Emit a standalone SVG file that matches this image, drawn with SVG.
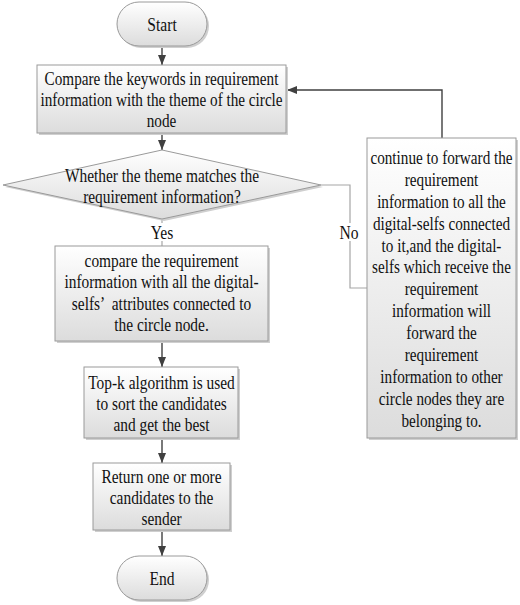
<svg xmlns="http://www.w3.org/2000/svg" width="520" height="605" viewBox="0 0 520 605">
<style>
.t{font-family:"Liberation Serif","Times New Roman",serif;font-size:19.5px;fill:#111;text-anchor:middle}
.box{fill:url(#g);stroke:#9a9a9a;stroke-width:1}
.sh{fill:#cfcfcf;stroke:none}
.arr{fill:none;stroke:#404040;stroke-width:1.4;marker-end:url(#ah)}
.ln{fill:none;stroke:#a6a6a6;stroke-width:1.2}
.lb{fill:#fff;stroke:none}
</style>
<defs>
<linearGradient id="g" x1="0" y1="0" x2="0" y2="1">
<stop offset="0" stop-color="#ffffff"/>
<stop offset="1" stop-color="#dcdcdc"/>
</linearGradient>
<marker id="ah" markerUnits="userSpaceOnUse" markerWidth="10" markerHeight="8" refX="10" refY="4" orient="auto">
<path d="M0,0 L10,4 L0,8 z" fill="#404040"/>
</marker>
</defs>
<rect width="520" height="605" fill="#fff"/>
<g id="connectors">
<path class="arr" d="M162,46 V65"/>
<path class="arr" d="M162,133 V150"/>
<path class="ln" d="M162,219 V246"/>
<path class="arr" d="M162,341 V367"/>
<path class="arr" d="M162,438 V463"/>
<path class="arr" d="M162,530 V556"/>
<path class="ln" d="M321,185 H350 V288 H367"/>
<path class="arr" d="M442,138 V90 H287"/>
<rect class="lb" x="151" y="223" width="23" height="18"/>
<rect class="lb" x="339" y="223" width="20" height="18"/>
<g transform="translate(162,0) scale(0.8,1)"><text class="t" x="0" y="239">Yes</text></g>
<g transform="translate(349,0) scale(0.8,1)"><text class="t" x="0" y="239">No</text></g>
</g>
<g id="start">
<rect class="sh" x="119" y="4" width="90" height="44" rx="22"/>
<rect class="box" x="117" y="2" width="90" height="44" rx="22"/>
<g transform="translate(162,0) scale(0.8,1)"><text class="t" x="0" y="31">Start</text></g>
</g>
<g id="compare-keywords">
<rect class="sh" x="39" y="67" width="249" height="68"/>
<rect class="box" x="37" y="65" width="249" height="68"/>
<g transform="translate(161.5,0) scale(0.78,1)">
<text class="t" x="0" y="85">Compare the keywords in requirement</text>
<text class="t" x="0" y="106">information with the theme of the circle</text>
<text class="t" x="0" y="127">node</text>
</g>
</g>
<g id="decision">
<polygon class="sh" points="164,152 323,187 164,221 5,187"/>
<polygon class="box" points="162,150 321,185 162,219 3,185"/>
<g transform="translate(162,0) scale(0.79,1)">
<text class="t" x="0" y="182">Whether the theme matches the</text>
<text class="t" x="0" y="203">requirement information?</text>
</g>
</g>
<g id="compare-attributes">
<rect class="sh" x="57" y="248" width="213" height="95"/>
<rect class="box" x="55" y="246" width="213" height="95"/>
<g transform="translate(161.5,0) scale(0.79,1)">
<text class="t" x="0" y="267">compare the requirement</text>
<text class="t" x="0" y="288.5">information with all the digital-</text>
<text class="t" x="0" y="310" xml:space="preserve">selfs’  attributes connected to</text>
<text class="t" x="0" y="331.5">the circle node.</text>
</g>
</g>
<g id="topk">
<rect class="sh" x="86" y="369" width="154" height="71"/>
<rect class="box" x="84" y="367" width="154" height="71"/>
<g transform="translate(161.5,0) scale(0.79,1)">
<text class="t" x="0" y="389">Top-k algorithm is used</text>
<text class="t" x="0" y="410">to sort the candidates</text>
<text class="t" x="0" y="431">and get the best</text>
</g>
</g>
<g id="return">
<rect class="sh" x="95" y="465" width="137" height="67"/>
<rect class="box" x="93" y="463" width="137" height="67"/>
<g transform="translate(161.5,0) scale(0.79,1)">
<text class="t" x="0" y="483">Return one or more</text>
<text class="t" x="0" y="504">candidates to the</text>
<text class="t" x="0" y="525.5">sender</text>
</g>
</g>
<g id="end">
<rect class="sh" x="119" y="558" width="90" height="44" rx="22"/>
<rect class="box" x="117" y="556" width="90" height="44" rx="22"/>
<g transform="translate(162,0) scale(0.8,1)"><text class="t" x="0" y="585">End</text></g>
</g>
<g id="forward">
<rect class="sh" x="369" y="140" width="149" height="300"/>
<rect class="box" x="367" y="138" width="149" height="300"/>
<g transform="translate(441.5,0) scale(0.78,1)">
<text class="t" x="0" y="164">continue to forward the</text>
<text class="t" x="0" y="185.9">requirement</text>
<text class="t" x="0" y="207.8">information to all the</text>
<text class="t" x="0" y="229.7">digital-selfs connected</text>
<text class="t" x="0" y="251.6">to it,and the digital-</text>
<text class="t" x="0" y="273.5">selfs which receive the</text>
<text class="t" x="0" y="295.4">requirement</text>
<text class="t" x="0" y="317.3">information will</text>
<text class="t" x="0" y="339.2">forward the</text>
<text class="t" x="0" y="361.1">requirement</text>
<text class="t" x="0" y="383">information to other</text>
<text class="t" x="0" y="404.9">circle nodes they are</text>
<text class="t" x="0" y="426.8">belonging to.</text>
</g>
</g>
</svg>
